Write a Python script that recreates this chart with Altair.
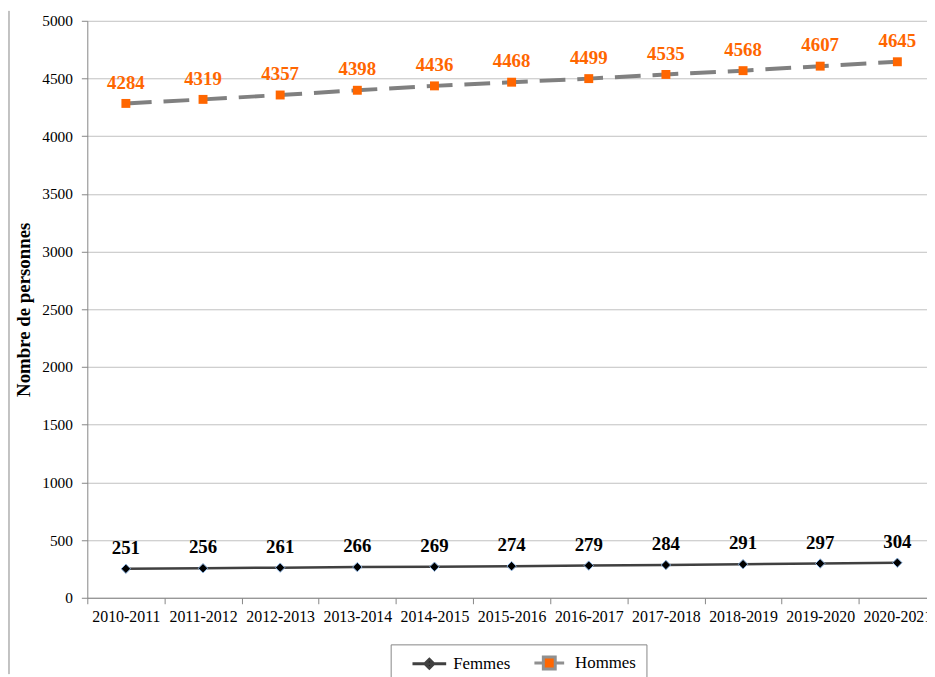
import altair as alt
import pandas as pd

years = ["2010-2011", "2011-2012", "2012-2013", "2013-2014", "2014-2015", "2015-2016",
         "2016-2017", "2017-2018", "2018-2019", "2019-2020", "2020-2021"]
femmes = [251, 256, 261, 266, 269, 274, 279, 284, 291, 297, 304]
hommes = [4284, 4319, 4357, 4398, 4436, 4468, 4499, 4535, 4568, 4607, 4645]
series_names = ["Femmes", "Hommes"]
y_ticks = list(range(0, 5001, 500))

df = pd.DataFrame({
    "annee": years * 2,
    "serie": ["Femmes"] * len(years) + ["Hommes"] * len(years),
    "valeur": femmes + hommes,
})

W, H = 847, 582
FONT = "Liberation Serif"
AX = "#868686"

x = alt.X("annee:N", sort=years,
          scale=alt.Scale(type="band", range=[0, 856], paddingInner=0, paddingOuter=0),
          axis=alt.Axis(title=None, tickBand="extent", labelAngle=0,
                        tickSize=6, labelPadding=5, labelFontSize=16,
                        grid=False, labelOverlap=False))
y = alt.Y("valeur:Q", scale=alt.Scale(domain=[0, 5000], nice=False),
          axis=alt.Axis(values=y_ticks, format="d", title="Nombre de personnes",
                        titleFontSize=19, titleFontWeight="bold",
                        labelFontSize=15.5, tickSize=6, labelPadding=9,
                        gridColor="#C0C0C0", titlePadding=8))

base = alt.Chart(df).encode(x=x, y=y)
fem = base.transform_filter(alt.datum.serie == "Femmes")
hom = base.transform_filter(alt.datum.serie == "Hommes")

line_f = fem.mark_line(color="#404040", strokeWidth=2.5)
line_h = hom.mark_line(color="#808080", strokeWidth=4, strokeDash=[26, 12])
pt_f = fem.mark_point(shape="diamond", filled=True, fill="black", stroke="#8DB4E2",
                      strokeWidth=1, size=90, opacity=1)
pt_h = hom.mark_point(shape="square", filled=True, fill="#FF6600", size=81, opacity=1)
txt_f = fem.mark_text(dy=-21, font=FONT, fontSize=19, fontWeight="bold",
                      color="black").encode(text="valeur:Q")
txt_h = hom.mark_text(dy=-21, font=FONT, fontSize=19, fontWeight="bold",
                      color="#FF6600").encode(text="valeur:Q")

# legend symbols: line with marker (unit = 5px since r = sqrt(100)/2)
path_f = "M0.7,0L7.5,0M4.1,-0.9L5.0,0L4.1,0.9L3.2,0Z"
path_h = "M0.7,0L2.4,0M5.0,0L6.7,0M2.5,-1.2L4.9,-1.2L4.9,1.2L2.5,1.2Z"

leg = alt.Legend(title=None, orient="none", legendX=306, legendY=629, direction="horizontal",
                 symbolSize=100, symbolStrokeWidth=3, symbolOpacity=1,
                 labelFont=FONT, labelFontSize=17, labelColor="black",
                 strokeColor=AX, fillColor="white", padding=10, columnPadding=12,
                 labelOffset=36)

legend_layer = base.mark_point(filled=True, opacity=0).encode(
    shape=alt.Shape("serie:N", scale=alt.Scale(domain=series_names, range=[path_f, path_h]), legend=leg),
    fill=alt.Fill("serie:N", scale=alt.Scale(domain=series_names, range=["black", "#FF6600"]), legend=leg),
    stroke=alt.Stroke("serie:N", scale=alt.Scale(domain=series_names, range=["#404040", "#909090"]), legend=leg),
)

frame = alt.Chart(pd.DataFrame({"a": [0]})).mark_rule(color=AX, strokeWidth=1).encode(
    x=alt.value(-79), y=alt.value(-10), y2=alt.value(H + 77))

chart = alt.layer(frame, line_h, line_f, pt_h, pt_f, txt_h, txt_f, legend_layer).properties(
    width=W, height=H,
    autosize=alt.AutoSizeParams(type="none"),
    padding={"left": 80, "top": 10, "right": 0, "bottom": 77},
    background="white",
).configure_view(stroke=None).configure_axis(
    labelFont=FONT, titleFont=FONT, labelColor="black", titleColor="black",
    domainColor=AX, tickColor=AX
).configure_legend(labelFont=FONT, labelColor="black")

chart.save("out.html", embed_options={"renderer": "svg", "actions": False})
